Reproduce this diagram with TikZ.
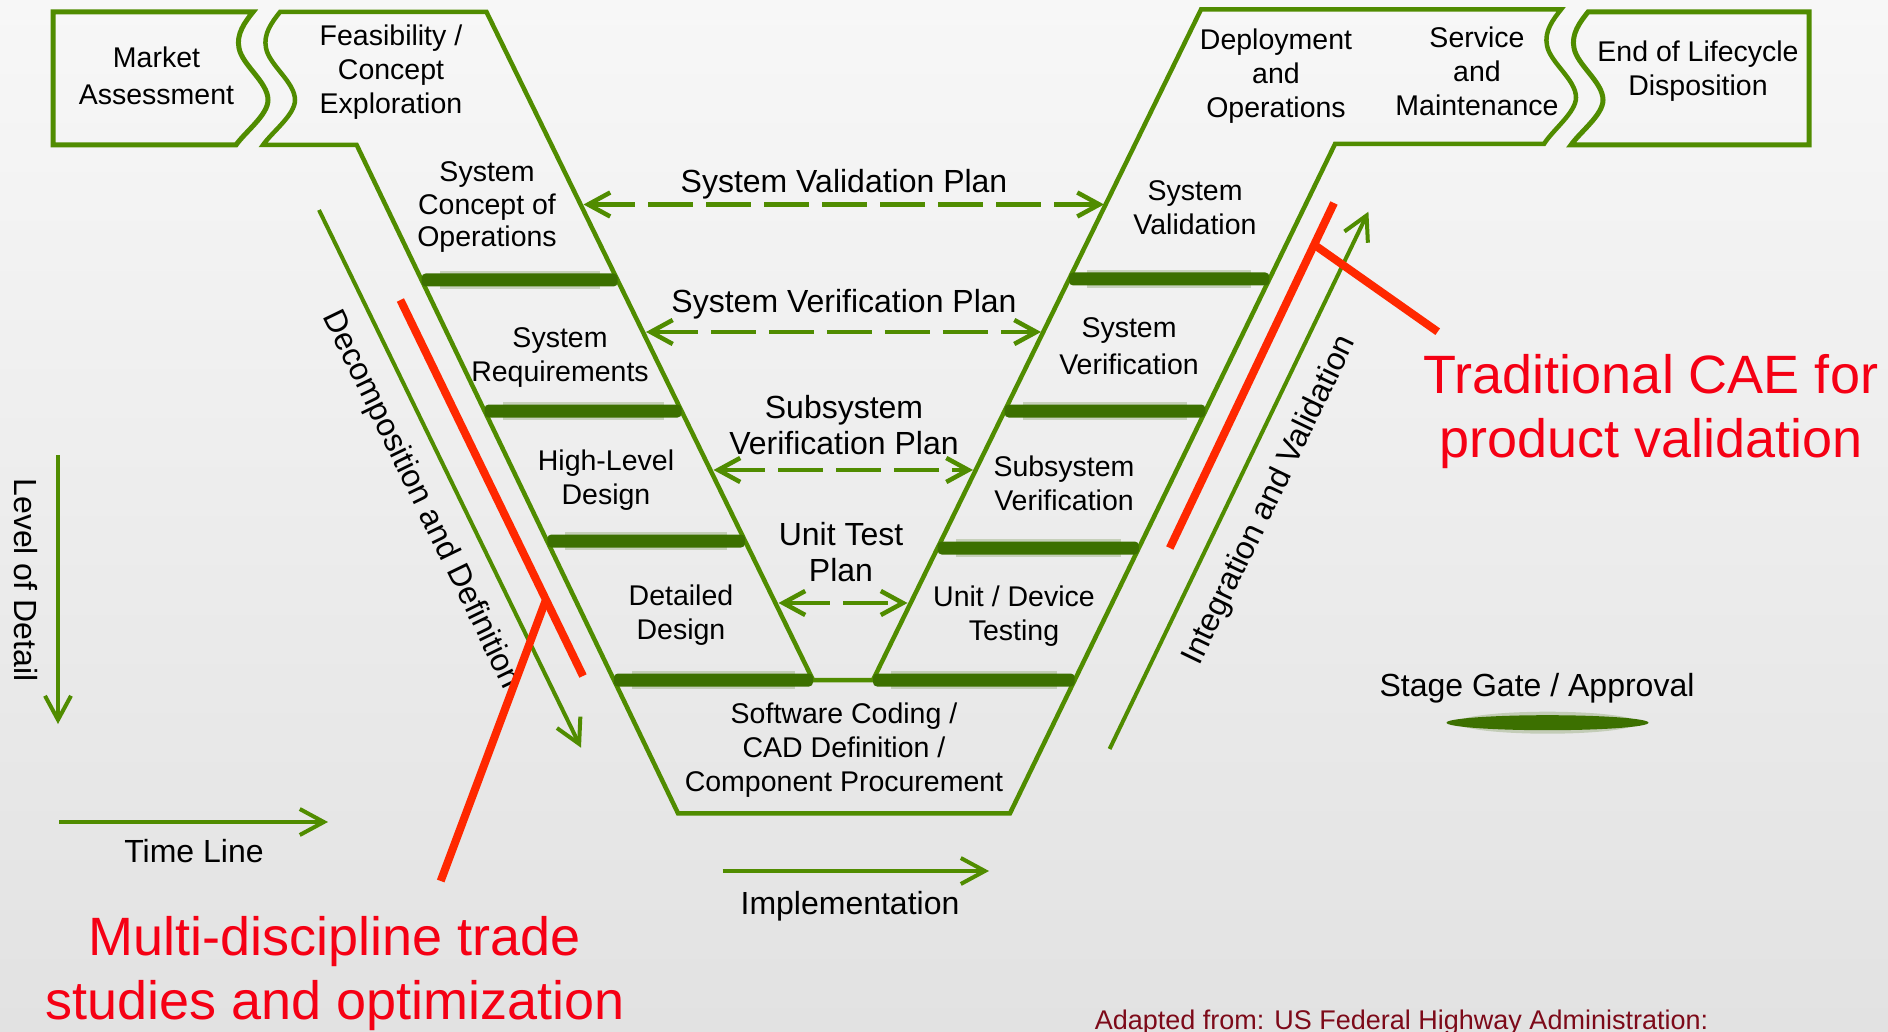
\documentclass[tikz,border=0pt]{standalone}
\usepackage{fontspec}
\setmainfont{Liberation Sans}
\usetikzlibrary{arrows.meta}
\definecolor{vgreen}{RGB}{80,140,0}
\definecolor{gatec}{RGB}{60,112,0}
\definecolor{halo}{RGB}{150,172,125}
\definecolor{redl}{RGB}{255,40,0}
\definecolor{redt}{RGB}{245,0,20}
\definecolor{adapt}{RGB}{125,10,25}
\definecolor{bgtop}{RGB}{247,247,247}
\definecolor{bgbot}{RGB}{226,226,226}
\begin{document}
\begin{tikzpicture}[x=1pt,y=-1pt,
  vline/.style={draw=vgreen, line width=4.5pt, line join=miter},
  boxline/.style={draw=vgreen, line width=5pt, line join=miter},
  gatebar/.style={fill=gatec, rounded corners=4pt},
  gatehalo/.style={fill=halo, opacity=0.45},
  garrow/.style={draw=vgreen, line width=4pt, -{Straight Barb[length=24pt,width=26pt]}},
  darrow/.style={draw=vgreen, line width=4.5pt, dash pattern=on 45pt off 13pt,
     {Straight Barb[length=22pt,width=24pt]}-{Straight Barb[length=22pt,width=24pt]}},
  redline/.style={draw=redl, line width=8pt},
  boxtxt/.style={align=center, inner sep=0pt, font=\fontsize{28.5}{34}\selectfont,
     execute at begin node=\strut, execute at end node=\strut},
  plantxt/.style={align=center, inner sep=0pt, font=\fontsize{32}{36}\selectfont,
     execute at begin node=\strut, execute at end node=\strut},
  planone/.style={inner sep=0pt, anchor=base, font=\fontsize{32}{36}\selectfont},
  rottxt/.style={inner sep=0pt, font=\fontsize{32}{38}\selectfont},
  redtxt/.style={align=center, inner sep=0pt, text=redt, font=\fontsize{54}{64}\selectfont,
     execute at begin node=\strut, execute at end node=\strut}
]
\useasboundingbox (0,0) rectangle (1888,1032);
\shade[top color=bgtop, bottom color=bgbot] (0,0) rectangle (1888,1032);

% stage gate halos
\foreach \y/\a/\b in {280/421.6/617.6, 411/484.6/681.6, 541/547.4/745.1, 680/613.9/813,
                      279/1069.1/1269.4, 411/1004.6/1205.3, 548/937.6/1138.8, 680/873/1074.7}
  {\fill[gatehalo] (\a+18,\y-9) rectangle (\b-18,\y+9);}

% V outline
\draw[vline] (280,12) -- (486.5,12) -- (813,680) -- (873,680) -- (1201,9.5) -- (1561,9.5)
  .. controls (1553,19.5) and (1544,31.5) .. (1547,45.5)
  .. controls (1550,62.5) and (1576,79.5) .. (1576,97.5)
  .. controls (1576,112.5) and (1553,129.5) .. (1544,144)
  -- (1335,144) -- (1010,813.3) -- (678,813.3) -- (356.7,145) -- (263,145)
  .. controls (272,132) and (295,115) .. (295,100)
  .. controls (295,82) and (269,65) .. (266,48)
  .. controls (263,34) and (272,22) .. (280,12) -- cycle;

% Market Assessment box
\draw[boxline] (253,12) .. controls (245,22) and (236,34) .. (239,48)
  .. controls (242,65) and (268,82) .. (268,100)
  .. controls (268,115) and (245,132) .. (236,145) -- (53,145) -- (53,12) -- cycle;

% End of Lifecycle box
\draw[boxline] (1588,12) -- (1809,12) -- (1809,145) -- (1571,145)
  .. controls (1580,132) and (1603,115) .. (1603,100)
  .. controls (1603,82) and (1577,65) .. (1574,48)
  .. controls (1571,34) and (1580,22) .. (1588,12) -- cycle;

% stage gates
\foreach \y/\a/\b in {280/421.6/617.6, 411/484.6/681.6, 541/547.4/745.1, 680/613.9/813,
                      279/1069.1/1269.4, 411/1004.6/1205.3, 548/937.6/1138.8, 680/873/1074.7}
  {\fill[gatebar] (\a,\y-6.5) rectangle (\b,\y+6.5);}

% legend gate
\fill[gatehalo] (1547.5,722.7) ellipse [x radius=90pt, y radius=11pt];
\fill[gatec] (1547.5,722.7) ellipse [x radius=101pt, y radius=7.5pt];

% box texts
\node[boxtxt, font=\fontsize{28.5}{37}\selectfont] (mkt) at (156.5,81) {Market\\Assessment};
\node[boxtxt] (fea) at (391,74) {Feasibility /\\Concept\\Exploration};
\node[boxtxt, font=\fontsize{28.5}{32.5}\selectfont] (sco) at (487,209) {System\\Concept of\\Operations};
\node[boxtxt] (sreq) at (560,359.5) {System\\Requirements};
\node[boxtxt] (hld) at (606,482.5) {High-Level\\Design};
\node[boxtxt] (dd) at (681,617.5) {Detailed\\Design};
\node[boxtxt] (sw) at (844,752.5) {Software Coding /\\CAD Definition /\\Component Procurement};
\node[boxtxt] (sval) at (1195,212.5) {System\\Validation};
\node[boxtxt, font=\fontsize{28.5}{37}\selectfont] (sver) at (1129,352) {System\\Verification};
\node[boxtxt] (ssver) at (1064,488.5) {Subsystem\\Verification};
\node[boxtxt] (unit) at (1014,618) {Unit / Device\\Testing};
\node[boxtxt] (dep) at (1276,78.5) {Deployment\\and\\Operations};
\node[boxtxt] (svc) at (1477,76) {Service\\and\\Maintenance};
\node[boxtxt] (eol) at (1698,73.5) {End of Lifecycle\\Disposition};

% plan labels
\node[planone] (svp) at (844,193) {System Validation Plan};
\node[planone] (sverp) at (844,313) {System Verification Plan};
\node[plantxt] (ssvp) at (844,430.5) {Subsystem\\Verification Plan};
\node[plantxt] (utp) at (841,557) {Unit Test\\Plan};

% dashed plan arrows
\coordinate (a1l) at (583.5,204.5); \coordinate (a1r) at (1104,204.5);
\coordinate (a2l) at (646,332);     \coordinate (a2r) at (1041,332);
\coordinate (a3l) at (713.5,470);   \coordinate (a3r) at (973,470);
\coordinate (a4l) at (778.5,603);   \coordinate (a4r) at (907.5,603);
\draw[darrow] (a1l) -- (a1r);
\draw[darrow] (a2l) -- (a2r);
\draw[darrow] (a3l) -- (a3r);
\draw[darrow] (a4l) -- (a4r);

% side arrows
\coordinate (lodS) at (58,455);     \coordinate (lodE) at (58,724);
\coordinate (tlS) at (59,822);      \coordinate (tlE) at (328,822);
\coordinate (imS) at (722.5,871);   \coordinate (imE) at (989,871);
\coordinate (ddS) at (319,210);     \coordinate (ddE) at (581,747.7);
\coordinate (ivS) at (1109.6,749);  \coordinate (ivE) at (1368.4,211.7);
\draw[garrow] (lodS) -- (lodE);
\draw[garrow] (tlS) -- (tlE);
\draw[garrow] (imS) -- (imE);
\draw[garrow] (ddS) -- (ddE);
\draw[garrow] (ivS) -- (ivE);

\node[rottxt, rotate=-90] (lod) at (26,580) {Level of Detail};
\node[planone] (tl) at (194,862.7) {Time Line};
\node[planone] (impl) at (850,914) {Implementation};
\node[planone] (stg) at (1537,696) {Stage Gate / Approval};
\node[rottxt, rotate=-64.1] (decomp) at (421,500) {Decomposition and Definition};
\node[rottxt, rotate=64.3] (integ) at (1270,500.5) {Integration and Validation};

\node[inner sep=0pt, anchor=base, text=adapt, font=\fontsize{27}{32}\selectfont] (adp) at (1401.5,1029)
  {Adapted from: US Federal Highway Administration:};

% red annotation lines
\coordinate (r1a) at (400.4,300);  \coordinate (r1b) at (583,676);
\coordinate (r2a) at (545.5,601);  \coordinate (r2b) at (440.7,881);
\coordinate (r3a) at (1334,203);   \coordinate (r3b) at (1169.8,548);
\coordinate (r4a) at (1316,246);   \coordinate (r4b) at (1437.7,331.7);
\draw[redline] (r1a) -- (r1b);
\draw[redline] (r2a) -- (r2b);
\draw[redline] (r3a) -- (r3b);
\draw[redline] (r4a) -- (r4b);

\node[redtxt] (multi) at (335,977.5) {Multi-discipline trade\\studies and optimization};
\node[redtxt] (trad) at (1651,416) {Traditional CAE for\\product validation};
\end{tikzpicture}
\end{document}
